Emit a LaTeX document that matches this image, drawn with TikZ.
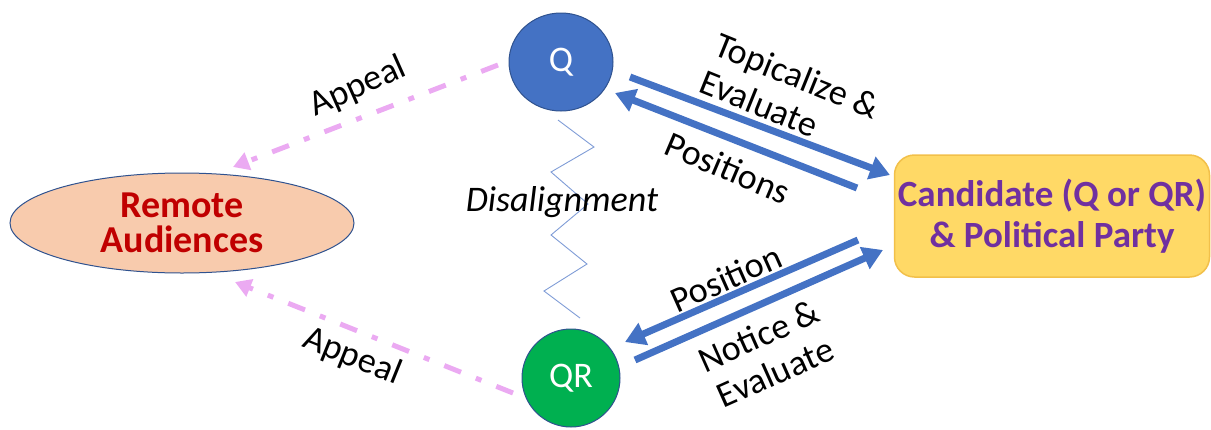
\documentclass[tikz,border=0pt]{standalone}
\usepackage{fontspec}
\setmainfont{Carlito}
\usetikzlibrary{arrows.meta,shapes.geometric}

\definecolor{qblue}{HTML}{4472C4}
\definecolor{edgeblue}{HTML}{2F528F}
\definecolor{qrgreen}{HTML}{00B050}
\definecolor{peach}{HTML}{F8CBAD}
\definecolor{darkred}{HTML}{C00000}
\definecolor{gold}{HTML}{FFD966}
\definecolor{goldedge}{HTML}{F2C04A}
\definecolor{purpletext}{HTML}{7030A0}
\definecolor{lilac}{HTML}{EBAAF2}
\definecolor{zigblue}{HTML}{7F9CD6}

\begin{document}
\begin{tikzpicture}[x=1pt,y=-1pt,
  actor/.style={ellipse, draw=edgeblue, line width=1pt, text=white,
    font=\fontsize{36}{40}\selectfont, inner sep=0pt},
  flow/.style={draw=qblue, line width=7pt, -{Triangle[length=20pt,width=23pt]}},
  appeal/.style={draw=lilac, line width=5pt,
    dash pattern=on 18pt off 16pt on 6pt off 16pt,
    -{Triangle[length=16pt,width=18pt]}},
  lbl/.style={font=\fontsize{36}{40}\selectfont, inner sep=0pt},
  boldlbl/.style={align=center},
  zig/.style={draw=zigblue, line width=0.9pt, line join=miter},
]
\useasboundingbox (0,0) rectangle (1211,429);

% main nodes
\node[actor, fill=qblue, minimum width=104pt, minimum height=98pt] (Q) at (561,62) {Q};
\node[actor, fill=qrgreen, minimum width=98pt, minimum height=98pt] (QR) at (571,378) {QR};
\node[ellipse, draw=edgeblue, line width=1pt, fill=peach, inner sep=0pt,
      minimum width=344pt, minimum height=100pt, boldlbl, text=darkred,
      font=\bfseries\fontsize{38}{35}\selectfont] (RA) at (182,223)
      {Remote\\Audiences};
\node[rectangle, rounded corners=20pt, draw=goldedge, line width=1.5pt, fill=gold,
      minimum width=315pt, minimum height=122pt, boldlbl, text=purpletext,
      font=\bfseries\fontsize{37}{41}\selectfont] (CP) at (1052,216)
      {Candidate (Q or QR)\\\& Political Party};

% end points of the connectors
\coordinate (a1s) at (630,77);  \coordinate (a1e) at (890,175);
\coordinate (a2s) at (857,188); \coordinate (a2e) at (615,93);
\coordinate (a3s) at (858,240); \coordinate (a3e) at (625,342);
\coordinate (a4s) at (635,360); \coordinate (a4e) at (883,250);
\coordinate (p1s) at (498,65);  \coordinate (p1e) at (233,167);
\coordinate (p2s) at (513,393); \coordinate (p2e) at (235,282);
\coordinate (zs) at (558,120);  \coordinate (ze) at (580,318);

% exchanges between Q / QR and the candidate
\draw[flow] (a1s) -- (a1e);
\draw[flow] (a2s) -- (a2e);
\draw[flow] (a3s) -- (a3e);
\draw[flow] (a4s) -- (a4e);

% appeals to the remote audiences
\draw[appeal] (p1s) -- (p1e);
\draw[appeal] (p2s) -- (p2e);

% disalignment zigzag between Q and QR
\draw[zig] (zs) -- (594,147) -- (551,172) -- (588,204) -- (551,235)
  -- (587,264) -- (544,291) -- (ze);

% labels
\node[lbl, rotate=24] (l1) at (358,87) {Appeal};
\node[lbl, rotate=-22] (l2) at (352,357) {Appeal};
\node[lbl, font=\itshape\fontsize{36}{40}\selectfont] (l3) at (562,202) {Disalignment};
\node[lbl, rotate=-22, align=left] (l4) at (790,94) {Topicalize \&\\Evaluate};
\node[lbl, rotate=-23] (l5) at (728,168) {Positions};
\node[lbl, rotate=24] (l6) at (726,278) {Position};
\node[lbl, rotate=24, align=center] (l7) at (767,354) {Notice \&\\Evaluate};
\end{tikzpicture}
\end{document}
